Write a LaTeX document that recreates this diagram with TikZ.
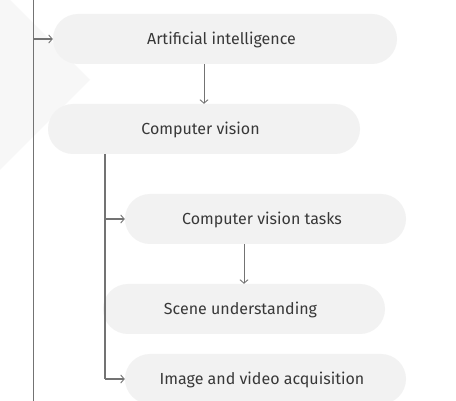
\documentclass[tikz,border=0pt]{standalone}
\usepackage{fontspec}
\setmainfont{Fira Sans}
\usetikzlibrary{arrows.meta}
\definecolor{boxfill}{HTML}{F2F2F2}
\definecolor{chev}{HTML}{F7F7F7}
\definecolor{linec}{HTML}{737373}
\definecolor{txt}{HTML}{383838}
\tikzset{
  pill/.style={draw=none, fill=boxfill, rounded corners=25pt, minimum height=50pt, inner sep=0pt,
    text height=11pt, text depth=0pt, text=txt, font=\fontsize{16}{18}\selectfont,
    execute at begin node=\hspace*{-7pt}},
  thinarrow/.style={draw=linec, line width=0.9pt, -{Straight Barb[length=3.5pt,width=8pt]}},
  thickarrow/.style={draw=linec, line width=1.8pt, -{Straight Barb[length=3.5pt,width=8pt,line width=0.9pt]}},
  thickline/.style={draw=linec, line width=1.8pt},
  thinline/.style={draw=linec, line width=0.9pt},
}
\begin{document}
\begin{tikzpicture}[x=1pt,y=-1pt]
\clip (0,0) rectangle (456,401);
\fill[white] (0,0) rectangle (456,401);
% background chevron
\fill[chev] (0,0) -- (10,0) -- (90,80) -- (0,170) -- cycle;
% nodes
\node[pill, minimum width=344pt] (ai) at (225,39) {Artificial intelligence};
\node[pill, minimum width=312pt] (cv) at (204,129) {Computer vision};
\node[pill, minimum width=281pt] (cvt) at (265.5,219) {Computer vision tasks};
\node[pill, minimum width=282pt] (su) at (244,309) {Scene understanding};
\node[pill, minimum width=281pt] (iva) at (265.5,379) {Image and video acquisition};
% left trunk
\coordinate (ttop) at (33,0);
\coordinate (tbot) at (33,401);
\coordinate (tj) at (33,39);
\draw[thinline] (ttop) -- (tbot);
\draw[thickarrow] (tj) -- (ai.west);
% AI -> CV
\draw[thinarrow] (ai.south -| 204,0) -- (cv.north -| 204,0);
% CV branches
\coordinate (b0) at (105,154);
\coordinate (b1) at (105,219);
\coordinate (b2) at (105,379);
\draw[thickline] (b0) -- (b2);
\draw[thickarrow] (b1) -- (cvt.west);
\draw[thickarrow] (b2) -- (iva.west);
% CVT -> SU
\draw[thinarrow] (cvt.south -| 244,0) -- (su.north -| 244,0);
\end{tikzpicture}
\end{document}
